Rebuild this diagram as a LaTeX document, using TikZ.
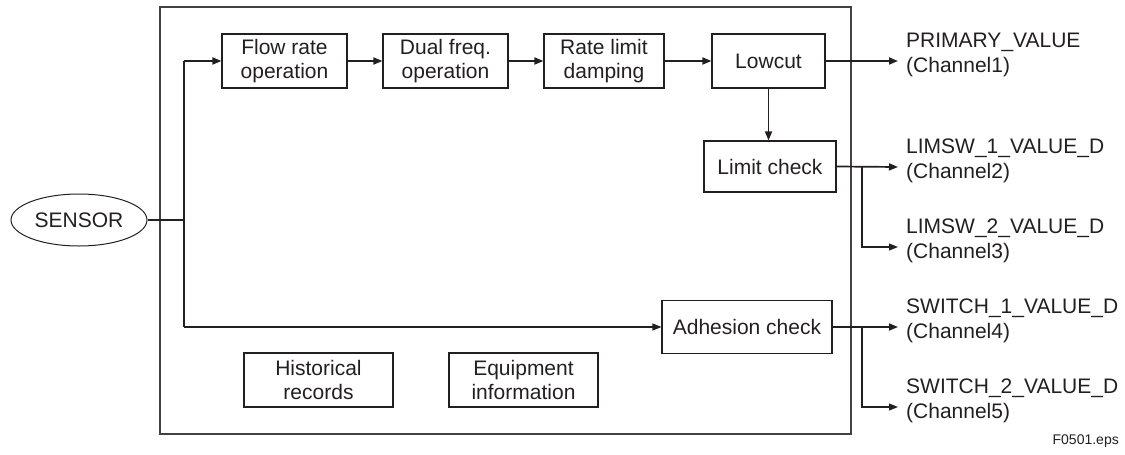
\documentclass[tikz,border=0pt]{standalone}
\usepackage{fontspec}
\setmainfont{Liberation Sans}
\usetikzlibrary{arrows.meta,shapes.geometric}
\definecolor{ink}{HTML}{231F20}
\begin{document}
\begin{tikzpicture}[x=1pt,y=-1pt,
  every node/.style={text=ink,font=\fontsize{21}{24}\selectfont},
  blk/.style={draw=ink,line width=1.1pt,rectangle,inner sep=0pt,align=center},
  lbl/.style={anchor=west,align=left,inner sep=0pt,font=\fontsize{21}{25}\selectfont},
  thickarr/.style={draw=ink,line width=1.7pt,-{Triangle[length=9pt,width=7pt]}},
  thinarr/.style={draw=ink,line width=1.1pt,-{Triangle[length=9pt,width=7pt]}},
  thinline/.style={draw=ink,line width=1.1pt}]
\useasboundingbox (0,0) rectangle (1125,455);
% outer frame
\draw[draw=ink!85,line width=1.3pt] (160,7) rectangle (851,434);
% blocks
\node[blk,minimum width=125pt,minimum height=54pt] (flow) at (284.5,61) {Flow rate\\operation};
\node[blk,minimum width=125pt,minimum height=54pt] (dual) at (445.5,61) {Dual freq.\\operation};
\node[blk,minimum width=120pt,minimum height=54pt] (rate) at (604,61) {Rate limit\\damping};
\node[blk,minimum width=113pt,minimum height=54pt] (lowcut) at (768.5,61) {Lowcut};
\node[blk,minimum width=132pt,minimum height=51pt] (limit) at (770,166.5) {Limit check};
\node[blk,minimum width=170pt,minimum height=53pt] (adh) at (747,327) {Adhesion check};
\node[blk,minimum width=149pt,minimum height=54pt] (hist) at (318.5,380) {Historical\\records};
\node[blk,minimum width=149pt,minimum height=54pt] (equip) at (523.5,380) {Equipment\\information};
\node[draw=ink,line width=1pt,ellipse,minimum width=136pt,minimum height=52pt,inner sep=0pt] (sensor) at (79,220) {SENSOR};
% coordinates
\coordinate (jn) at (184,220);
\coordinate (jtop) at (184,61);
\coordinate (jbot) at (184,327);
\coordinate (o1) at (898,61);
\coordinate (o2) at (898,167);
\coordinate (o3) at (898,247);
\coordinate (o4) at (898,327);
\coordinate (o5) at (898,407);
\coordinate (b2) at (862,167);
\coordinate (b4) at (862,327);
% connectors
\draw[thinline] (sensor.east) -- (jn);
\draw[thinline] (jtop) -- (jbot);
\draw[thickarr] (jtop) -- (flow.west);
\draw[thinarr] (jbot) -- (adh.west);
\draw[thickarr] (flow.east) -- (dual.west);
\draw[thickarr] (dual.east) -- (rate.west);
\draw[thickarr] (rate.east) -- (lowcut.west);
\draw[thickarr] (lowcut.east) -- (o1);
\draw[thickarr] (lowcut.south) -- (lowcut.south |- limit.north);
\draw[thickarr] (limit.east) -- (o2);
\draw[thinarr] (b2) |- (o3);
\draw[thickarr] (adh.east) -- (o4);
\draw[thinarr] (b4) |- (o5);
% labels
\node[lbl] (l1) at (906,55) {PRIMARY\_VALUE\\(Channel1)};
\node[lbl] (l2) at (906,161) {LIMSW\_1\_VALUE\_D\\(Channel2)};
\node[lbl] (l3) at (906,241) {LIMSW\_2\_VALUE\_D\\(Channel3)};
\node[lbl] (l4) at (906,321) {SWITCH\_1\_VALUE\_D\\(Channel4)};
\node[lbl] (l5) at (906,401) {SWITCH\_2\_VALUE\_D\\(Channel5)};
\node[anchor=east,inner sep=0pt,font=\fontsize{14}{16}\selectfont] (fig) at (1119,441) {F0501.eps};
\end{tikzpicture}
\end{document}
